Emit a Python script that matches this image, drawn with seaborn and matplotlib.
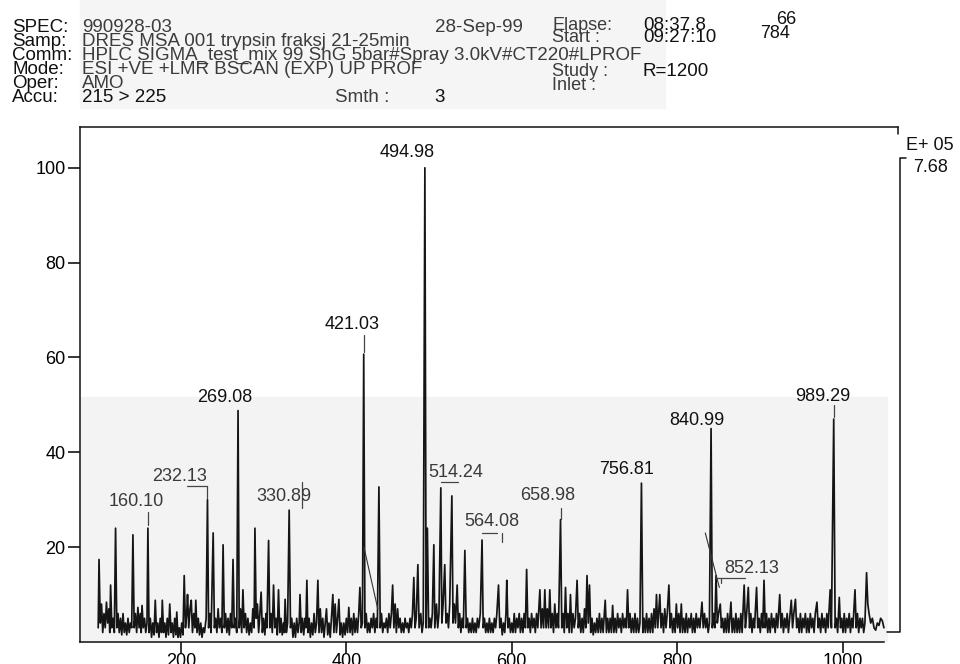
import numpy as np
import pandas as pd
import matplotlib
matplotlib.use("Agg")
import matplotlib.pyplot as plt
import seaborn as sns

# ---------------- data ----------------
mz_100 = [100, 101, 102.5, 104, 105.5, 107, 108.5, 110, 111.5, 113, 114, 115, 116.5, 118, 119.5, 121, 122.5, 124,
          125.5, 127, 128.5, 130, 131.5, 133, 134.5, 136, 137.5, 139, 140.5, 142, 143.5, 145, 146.5, 148, 149.5,
          151, 152, 153, 154.5, 156, 157.5, 159, 160.1, 161.5, 163, 164.5, 166, 167.5, 169, 170.5, 172, 173.5,
          175, 176.5, 177.5, 179, 180.5, 182, 183.5, 185, 186.5, 188, 189.5, 191, 192.5, 194, 195, 196.5, 198, 199.5]
in_100 = [3, 17.4, 4, 8, 2, 6, 3, 8.4, 4, 7, 2, 12, 3, 5, 2, 24, 3, 6,
          2, 5, 1.5, 6, 2, 4, 1.5, 5, 2, 4, 3, 22.6, 3, 6, 2, 7.3, 3,
          6, 2, 7.7, 3, 5, 2, 4, 24, 2, 5, 1, 4, 1.5, 8.8, 2, 4, 1,
          5, 2, 8.8, 2, 4, 1, 5, 1.5, 8, 2, 4, 1, 5, 1.5, 6.3, 1, 3, 1]

mz_200 = [201, 202.5, 204, 205.5, 207, 208, 209.5, 211, 212.5, 214, 215.5, 217, 218, 219.5, 221, 222.5, 224, 225.5,
          227, 228.5, 230.5, 232.13, 233.5, 235, 236.5, 239, 240.5, 242, 243.5, 245, 246.5, 248, 249.5, 251, 252.5,
          254, 255.5, 257, 258.5, 260, 261.5, 263, 264.5, 266, 267.5, 269.08, 270.5, 272, 273.5, 275, 276.5, 278,
          279.5, 281, 282.5, 284, 285.5, 287, 288.5, 289.5, 291, 292.5, 294, 295.5, 297, 298.5, 300]
in_200 = [4, 1.5, 14, 3, 6, 10, 3, 7, 8.8, 2, 6, 3, 8.8, 2, 5, 1.5, 4, 1,
          3, 2, 5, 30, 3, 6, 2, 23, 3, 5, 2, 7, 3, 5, 2, 20.5, 3,
          6, 2, 5, 1.5, 6, 3, 17.4, 3, 5, 2, 48.8, 3, 7, 2, 11, 3, 6,
          2, 5, 1.5, 4, 2, 7, 3, 24, 5, 8, 2, 6, 10.5, 2, 5]

mz_300 = [301.5, 303, 304, 306, 307.5, 309, 310.5, 312, 313.5, 315, 316.5, 318, 319.5, 321, 322.5, 324, 325, 326,
          327.5, 329, 330.89, 332.5, 334, 335.5, 337, 338.5, 340, 341.5, 343, 344, 345.5, 347, 348.5, 350, 351,
          352.3, 353.5, 355, 356.5, 358, 359.5, 361, 362.5, 364, 365.6, 367, 368.5, 370, 371.5, 373, 374.5, 376,
          377.5, 379, 380.5, 382, 383.7, 385, 386.5, 388, 389.5, 391, 392.5, 394, 395.5, 397, 398.5, 400]
in_300 = [1.5, 6, 3, 21.4, 3, 6, 2, 12, 3, 5, 1.5, 11, 2, 5, 1.5, 4, 2, 9,
          2, 4, 27.8, 3, 5, 1, 4, 1, 5, 2, 4, 10, 2, 5, 1.5, 5, 3,
          13, 2, 5, 1, 4, 1.5, 6, 2, 4, 13, 2, 7, 2, 5, 1, 4, 7,
          1.5, 4, 1, 5, 10, 2, 8, 2, 5, 9, 1.5, 4, 1, 4, 1.5, 5]

mz_400 = [401.5, 403, 404.5, 406, 407.5, 409, 410.5, 412, 413.5, 415, 416.4, 418, 419.5, 421.03, 422.5, 424, 425.5,
          427, 428.5, 430, 431.5, 433, 434.5, 436, 437.5, 439.4, 441, 442.5, 444, 445.5, 447, 448.5, 450, 451.5,
          453, 454.5, 456, 457.5, 459, 460.5, 462, 463.5, 465, 466.5, 468, 469.5, 471, 472.5, 474, 475.5, 477,
          478.5, 480, 481.6, 483, 484.5, 486.5, 488, 490, 491.5, 493, 494.98, 496.5, 498, 499.5]
in_400 = [2, 7.3, 2, 5, 1.5, 6, 2, 5, 2, 6, 11.5, 3, 4, 60.7, 3, 6, 2,
          4, 2, 5, 3, 6, 2, 5, 3, 32.7, 3, 6, 2, 4, 3, 5, 2, 6,
          3, 6, 12, 3, 8, 2, 7, 3, 5, 2, 4, 2, 5, 3, 4, 2, 5,
          3, 6, 13.6, 3, 5, 16.3, 3, 6, 2, 4, 100, 3, 24, 3]

mz_500 = [501, 502.5, 504, 505.8, 507, 509, 510.5, 512, 514.24, 515.5, 517, 519, 520.5, 522, 523.5, 525, 527.6, 529,
          530.5, 532, 534, 535.5, 537, 538.5, 540, 541.5, 543.3, 545, 546.5, 548, 549.5, 551, 552.5, 554, 555.5,
          557, 558.5, 560, 562, 564.08, 565.5, 567, 568.5, 570, 571.5, 573, 574.5, 576, 577.5, 579, 580.5, 582,
          584, 585.5, 587, 588.5, 590, 591.5, 593, 594, 595.5, 597, 598.5, 600]
in_500 = [5, 3, 6, 20.5, 3, 8, 3, 6, 32.5, 4, 8, 16.3, 4, 6, 3, 8, 30.8, 4,
          8, 4, 12, 3, 6, 2, 5, 3, 19.3, 3, 5, 2, 4, 2, 5, 2, 4,
          2, 5, 3, 6, 21.5, 3, 5, 2, 4, 2, 5, 2, 4, 2, 5, 3, 6,
          12, 3, 5, 1.5, 4, 2, 6, 13, 3, 5, 2, 4]

mz_600 = [601.5, 603, 604.5, 606, 607.5, 609, 610.5, 612, 613.5, 615, 616.5, 618, 619.5, 621, 622.5, 624, 625.5, 627,
          628.5, 630, 631.5, 633, 634, 635.5, 637, 638.5, 640, 641.5, 643, 644.5, 646, 647.5, 649, 650.5, 652,
          653.5, 655, 656.5, 658.98, 660.5, 662, 663.5, 665, 666.5, 668, 669.5, 671, 672.5, 674, 675.5, 677, 679,
          680.5, 682, 683.5, 685, 686.5, 688, 689.5, 691, 692.5, 694, 695.5, 697, 698.5, 700]
in_600 = [2, 6, 2, 5, 3, 6, 2, 5, 2, 6, 3, 15.3, 3, 5, 2, 6, 3, 5,
          2, 6, 3, 8, 11, 3, 7, 3, 11, 3, 7, 3, 11, 3, 6, 2, 8,
          3, 6, 3, 25.8, 3, 6, 2, 11.5, 3, 6, 2, 10, 2, 6, 3, 5, 13,
          3, 6, 2, 5, 2, 7, 3, 14, 4, 12, 2, 5, 1.5, 4]

mz_700 = [701.5, 703, 704.5, 706, 707.5, 709, 710.5, 713, 714.5, 716, 717.5, 719, 720.5, 722, 723.5, 725, 726.5, 728,
          729.5, 731, 732.5, 734, 735.5, 737, 738.5, 740, 741.5, 743, 744.5, 746, 747.5, 749, 750.5, 752, 753.5,
          755, 756.81, 758.5, 760, 761.5, 763, 764.5, 766, 767.5, 769, 770.5, 772, 773.5, 775, 776.5, 778, 779,
          780.5, 782, 783.5, 785, 786.5, 788, 790, 791.5, 793, 794.5, 796, 797.5, 799, 800.5]
in_700 = [2, 5, 2, 6, 2, 5, 2, 8.8, 2, 5, 2, 5, 2, 7.7, 2, 5, 2, 6,
          3, 5, 2, 6, 3, 5, 3, 11, 3, 6, 2, 5, 2, 6, 2, 5, 2,
          4, 33.5, 2, 5, 2, 6, 2, 5, 2, 6, 2, 7, 3, 10, 3, 7, 10,
          3, 6, 2, 7, 3, 6, 12, 3, 6, 2, 5, 2, 8, 3]

mz_800 = [802, 803.5, 805, 806.5, 808, 809.5, 811, 812.5, 814, 815.5, 817, 818.5, 820, 821.5, 823, 824.5, 826, 827.5,
          830, 831.5, 833, 834.5, 836, 837.5, 839, 840.99, 842.5, 844, 845.5, 847, 848.5, 850, 852.13, 853.5, 855,
          856.5, 858, 859.5, 861, 862.5, 865, 866.5, 868, 869.5, 871, 872.5, 874, 875.5, 877, 878.5, 881, 882.5,
          884, 886, 887.5, 889, 890.5, 892, 893.5, 896, 897.5, 899, 900.5]
in_800 = [6, 2, 8, 2, 5, 2, 6, 2, 5, 3, 6, 2, 5, 2, 6, 3, 5, 3,
          8.4, 3, 6, 3, 5, 2, 4, 45, 3, 6, 3, 14, 4, 6, 8, 3, 5,
          2, 5, 2, 6, 2, 8.4, 2, 5, 2, 6, 2, 5, 2, 6, 2, 12, 3,
          6, 11.5, 3, 6, 2, 5, 3, 11.5, 3, 5, 2]

mz_900 = [902, 903.5, 905, 906.5, 908, 909.5, 911, 912.5, 914, 915.5, 917, 918.5, 920, 921.5, 924, 925.5, 927, 928.5,
          930, 931.5, 933, 934.5, 936, 938, 939.5, 941, 943, 944.5, 946, 947.5, 949, 950.5, 952, 953.5, 955,
          956.5, 958, 959.5, 961, 962.5, 964, 965.5, 967, 969, 970.5, 972, 973.5, 975, 976.5, 978, 979.5, 981,
          982.5, 985, 986.5, 989.29, 991, 992.5, 994, 996, 997.5, 999, 1000.5, 1002, 1003.5, 1005, 1006.5, 1008,
          1009.5, 1011, 1012.5, 1015, 1016.5, 1018, 1019.5, 1021, 1022.5, 1024, 1025.5, 1027, 1029, 1030.5, 1032,
          1034, 1036, 1038, 1040, 1042, 1044, 1046, 1048, 1050]
in_900 = [6, 3, 13, 3, 6, 2, 5, 2, 6, 3, 5, 2, 6, 3, 10, 3, 6, 2,
          5, 3, 6, 2, 5, 8.8, 3, 6, 9, 3, 5, 2, 6, 2, 5, 3, 6,
          2, 5, 2, 6, 3, 5, 2, 6, 8.4, 3, 5, 2, 6, 3, 5, 2, 6,
          3, 11, 3, 47, 3, 5, 2, 9.4, 3, 5, 2, 6, 2, 5, 3, 6,
          2, 5, 3, 11, 3, 6, 2, 5, 3, 5, 2, 4, 14.6, 8, 6,
          4, 5, 3, 2.5, 4, 3.5, 5, 4.5, 3]

# pen-return strokes seen next to two peaks
stroke_mz = [[421.3, 438.0], [834.0, 851.0]]
stroke_in = [[20.0, 7.0], [23.0, 11.5]]

label_text = ["160.10", "232.13", "269.08", "330.89", "421.03", "494.98", "514.24",
              "564.08", "658.98", "756.81", "840.99", "852.13", "989.29"]
label_mz = [160.10, 232.13, 269.08, 330.89, 421.03, 494.98, 514.24,
            564.08, 658.98, 756.81, 840.99, 852.13, 989.29]

x_ticks = [200, 400, 600, 800, 1000]
y_ticks = [20, 40, 60, 80, 100]

header_keys = ["SPEC:", "Samp:", "Comm:", "Mode:", "Oper:", "Accu:"]
header_vals = ["990928-03", "DRES MSA 001 trypsin fraksj 21-25min",
               "HPLC SIGMA_test_mix 99 ShG 5bar#Spray 3.0kV#CT220#LPROF",
               "ESI +VE +LMR BSCAN (EXP) UP PROF", "AMO", "215 > 225"]
right_keys = ["Elapse:", "Start :", "Study :", "Inlet :"]
right_vals = ["08:37.8", "09:27:10", "R=1200", ""]

# ---------------- layout / style ----------------
W, H = 960, 664
FONT = ["Liberation Sans", "DejaVu Sans"]

label_layout = {
    "160.10": dict(t=(145.6, 29.7), c=(160.1, 24.6, 27.4)),
    "232.13": dict(t=(198.8, 34.8), c=(232.13, 30.4, 32.9), u=(207.0, 232.13, 32.9)),
    "269.08": dict(t=(253.2, 51.6)),
    "330.89": dict(t=(324.5, 30.6), c=(346.0, 28.3, 33.8)),
    "421.03": dict(t=(406.7, 66.9), c=(421.03, 61.2, 64.8)),
    "494.98": dict(t=(473.2, 103.2)),
    "514.24": dict(t=(532.4, 35.7), u=(514.24, 534.8, 33.8)),
    "564.08": dict(t=(576.0, 25.4), c=(588.0, 21.0, 23.0), u=(564.08, 582.0, 23.0)),
    "658.98": dict(t=(643.7, 30.8), c=(658.98, 26.0, 28.3)),
    "756.81": dict(t=(739.0, 36.4)),
    "840.99": dict(t=(823.7, 46.8)),
    "852.13": dict(t=(890.0, 15.6), c=(853.0, 12.4, 13.5), u=(846.8, 881.8, 13.5)),
    "989.29": dict(t=(976.0, 51.8), c=(989.29, 47.4, 49.9)),
}
dark_labels = {"421.03", "494.98", "269.08", "840.99", "989.29", "756.81"}

sns.set_theme(style="white")
plt.rcParams["font.family"] = FONT

fig = plt.figure(figsize=(W / 100, H / 100), dpi=100)
fig.patch.set_facecolor("white")

def fx(px):
    return px / W

def fy(py):
    return 1 - py / H

fig.patches.append(plt.Rectangle((fx(80), fy(108)), fx(665) - fx(80), fy(0) - fy(108),
                                 transform=fig.transFigure, color="#f5f5f5", zorder=-5))
fig.patches.append(plt.Rectangle((fx(81), fy(641)), fx(887) - fx(81), fy(397) - fy(641),
                                 transform=fig.transFigure, color="#f3f3f3", zorder=-5))

ax_l, ax_r, ax_t, ax_b = 80, 898, 127, 642
ax = fig.add_axes([fx(ax_l), fy(ax_b), fx(ax_r) - fx(ax_l), fy(ax_t) - fy(ax_b)])
ax.patch.set_alpha(0)

mz_all = mz_100 + mz_200 + mz_300 + mz_400 + mz_500 + mz_600 + mz_700 + mz_800 + mz_900
in_all = in_100 + in_200 + in_300 + in_400 + in_500 + in_600 + in_700 + in_800 + in_900
df = pd.DataFrame({"mz": mz_all, "intensity": in_all})

sns.lineplot(data=df, x="mz", y="intensity", ax=ax, sort=False, estimator=None,
             color="#151515", linewidth=1.25)
for sx, sy in zip(stroke_mz, stroke_in):
    ax.plot(sx, sy, color="#333333", linewidth=0.8)

ax.set_xlim(78, 1067)
ax.set_ylim(0, 108.6)
ax.set_xlabel("")
ax.set_ylabel("")
ax.set_xticks(x_ticks)
ax.set_yticks(y_ticks)
ax.tick_params(axis="x", direction="out", length=8, width=1.1, pad=0, labelsize=13,
               colors="black", bottom=True)
ax.tick_params(axis="y", direction="out", length=9, width=1.1, pad=1.5, labelsize=13,
               colors="black", left=True)
for s in ["left", "top", "bottom"]:
    ax.spines[s].set_color("#111111")
    ax.spines[s].set_linewidth(1.1)
ax.spines["right"].set_visible(False)
ax.spines["bottom"].set_bounds(78, 1050)

for txt, pmz in zip(label_text, label_mz):
    lay = label_layout[txt]
    col = "#111111" if txt in dark_labels else "#3a3a3a"
    tx, ty = lay["t"]
    ax.text(tx, ty, txt, ha="center", va="center", fontsize=13, color=col)
    if "c" in lay:
        cx, c0, c1 = lay["c"]
        ax.plot([cx, cx], [c0, c1], color="#444444", linewidth=0.9)
    if "u" in lay:
        u0, u1, uy = lay["u"]
        ax.plot([u0, u1], [uy, uy], color="#444444", linewidth=0.9)

fl = dict(transform=fig.transFigure, color="#111111", linewidth=1.1)
fig.add_artist(plt.Line2D([fx(898), fx(898)], [fy(127), fy(134)], **fl))
fig.add_artist(plt.Line2D([fx(906), fx(900), fx(900), fx(887)],
                          [fy(158), fy(158), fy(632), fy(632)], **fl))
fig.text(fx(906), fy(146), "E+ 05", ha="left", va="center", fontsize=13, color="#111111")
fig.text(fx(913), fy(168), "7.68", ha="left", va="center", fontsize=13, color="#111111")

HF = 13.5
hdr_y = [28, 41, 55, 69, 83, 97]
for k, v, y in zip(header_keys, header_vals, hdr_y):
    fig.text(fx(12), fy(y), k, ha="left", va="center", fontsize=HF, color="#111111")
    fig.text(fx(82), fy(y), v, ha="left", va="center", fontsize=HF,
             color="#111111" if k == "Accu:" else "#3c3c3c")
fig.text(fx(435), fy(27), "28-Sep-99", ha="left", va="center", fontsize=HF, color="#3c3c3c")
for k, v, y in zip(right_keys, right_vals, [26, 38, 72, 86]):
    fig.text(fx(552), fy(y), k, ha="left", va="center", fontsize=13, color="#3c3c3c")
    if v:
        fig.text(fx(643), fy(y), v, ha="left", va="center", fontsize=13.5, color="#111111")
fig.text(fx(796), fy(20), "66", ha="right", va="center", fontsize=13, color="#111111")
fig.text(fx(790), fy(34), "784", ha="right", va="center", fontsize=13, color="#111111")
fig.text(fx(335), fy(97), "Smth :", ha="left", va="center", fontsize=HF, color="#3c3c3c")
fig.text(fx(440), fy(97), "3", ha="center", va="center", fontsize=HF, color="#111111")

fig.savefig("out.png", dpi=100, facecolor="white")
